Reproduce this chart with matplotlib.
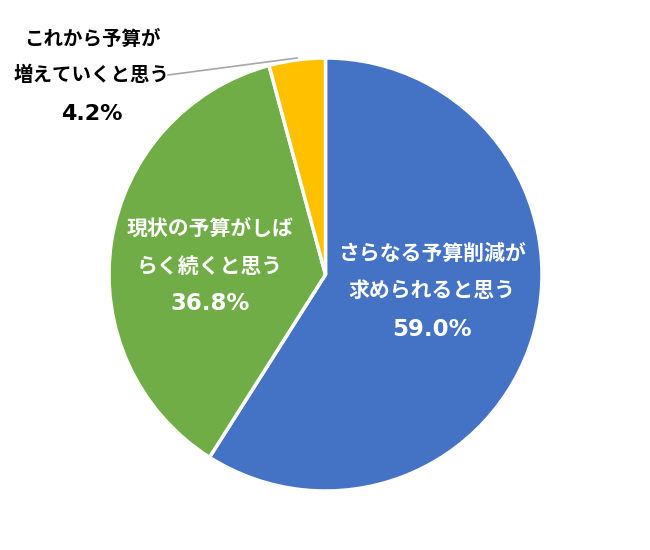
import matplotlib
matplotlib.use("Agg")
import matplotlib.pyplot as plt

plt.rcParams['font.family'] = ['Noto Sans CJK JP', 'DejaVu Sans']

labels = ["さらなる予算削減が\n求められると思う", "現状の予算がしば\nらく続くと思う", "これから予算が\n増えていくと思う"]
values = [59.0, 36.8, 4.2]
colors = ["#4472C4", "#70AD47", "#FFC000"]

H = 550
fig = plt.figure(figsize=(6.5, 5.5), dpi=100)
ax = fig.add_axes([0, 0, 1, 1])

cx, cy, r = 325.5, H - 274.5, 216.5
wedges, _ = ax.pie(values, colors=colors, startangle=90, counterclock=False,
                   center=(cx, cy), radius=r,
                   wedgeprops=dict(edgecolor='white', linewidth=2.5))
ax.set_xlim(0, 650)
ax.set_ylim(0, H)
ax.set_aspect('equal')
ax.axis('off')

def put_lines(lines, pct, x, ys, color, fs=15, pfs=16.5):
    for line, y in zip(lines, ys[:2]):
        ax.text(x, H - y, line, ha='center', va='center', fontsize=fs,
                fontweight='bold', color=color)
    ax.text(x, H - ys[2], pct, ha='center', va='center', fontsize=pfs,
            fontweight='bold', color=color, family='DejaVu Sans')

put_lines(labels[0].split("\n"), f"{values[0]:.1f}%", 432, [253, 290, 329], 'white')
put_lines(labels[1].split("\n"), f"{values[1]:.1f}%", 210, [229, 266, 303], 'white')
put_lines(labels[2].split("\n"), f"{values[2]:.1f}%", 92, [39, 75, 114], 'black', fs=14, pfs=16)

ax.plot([168, 297], [H - 75, H - 58], color='#A6A6A6', linewidth=1.2)

fig.savefig("out.png", dpi=100)
